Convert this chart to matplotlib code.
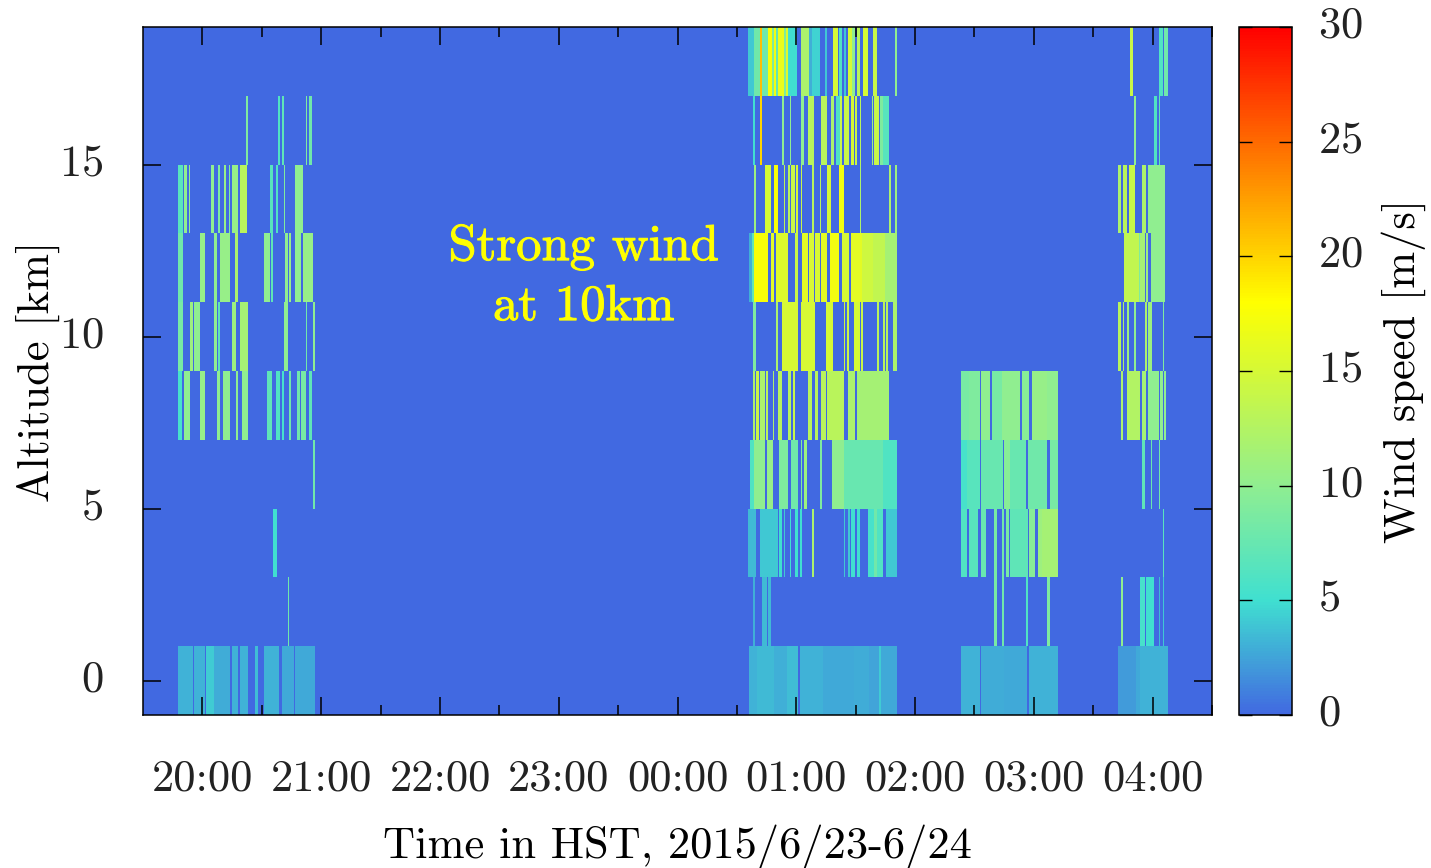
import matplotlib
matplotlib.use("Agg")
import matplotlib.pyplot as plt
import matplotlib.patheffects as pe
import matplotlib.transforms as mtrans
import numpy as np
from matplotlib.colors import LinearSegmentedColormap

plt.rcParams['font.family'] = ['cmr10', 'DejaVu Serif']
plt.rcParams['axes.formatter.use_mathtext'] = True
plt.rcParams['text.color'] = '#222222'
plt.rcParams['xtick.labelcolor'] = '#222222'
plt.rcParams['ytick.labelcolor'] = '#222222'

# altitude bins are 2 km wide, runs are (start, end, speed)
# start/end in minutes after 19:30, speed in m/s
altitudes = [0, 2, 4, 6, 8, 10, 12, 14, 16, 18]

runs_0 = [(17.7, 25.3, 3.1), (26, 31.3, 3.1), (32, 35.9, 4.2), (35.9, 44, 2.9), (44.8, 47.8, 3.1),
          (49.3, 53, 3.1), (56.7, 58.3, 3.6), (61.1, 68.7, 3.1), (70.2, 76.3, 2.8), (77, 86.7, 2.7),
          (305.9, 310, 3.1), (310, 318.5, 3.4), (318.5, 325.2, 3), (325.2, 330.7, 3.6),
          (332, 343.8, 3.1), (343.8, 359, 2.7), (359, 366.5, 2.9), (366.5, 371.9, 2.5),
          (371.9, 372.8, 4.2), (372.8, 380.8, 2.7),
          (413.2, 423, 3.1), (423.6, 434.7, 2.9), (434.7, 446.5, 2.7), (447.4, 462, 3.1),
          (492.5, 501.6, 2.2), (501.6, 503.8, 2.7), (503.8, 518.1, 3.1)]
runs_2 = [(73.3, 74.1, 8),
          (308.1, 309, 3), (312.6, 315, 3.5), (315.7, 317.2, 3.5),
          (429.7, 431.4, 8.5), (433.9, 435.1, 8), (446.2, 447, 6), (456.6, 458.2, 9),
          (494, 494.9, 10), (503.8, 506.1, 5.5), (506.8, 510.5, 5), (512.9, 513.7, 3.5), (515.1, 515.9, 4)]
runs_4 = [(65.8, 67.4, 5),
          (305.7, 309.6, 3.5), (311.8, 320.9, 4), (321.6, 323.1, 5), (323.8, 324.6, 4), (327, 327.6, 5),
          (329.2, 330.7, 5), (332, 333, 5), (338.1, 338.9, 12), (353.9, 354.7, 4), (356.1, 356.9, 4),
          (357.6, 359.8, 5), (360.6, 362.2, 5), (365.9, 369.6, 5.5), (369.6, 371.1, 8), (371.1, 374.1, 6),
          (375.6, 380.8, 4),
          (413.2, 416.2, 6), (416.9, 422.1, 6.5), (423.6, 425.8, 7.5), (429.7, 431.4, 8.5), (433.9, 435.1, 8),
          (435.8, 437.3, 8.5), (438.1, 446.9, 7), (447.7, 450.7, 9.5), (452.1, 454.1, 11), (454.1, 462, 11.5),
          (515.1, 515.9, 6.5)]
runs_6 = [(86, 86.9, 8),
          (306.8, 308.4, 6), (308.4, 314.2, 10), (315, 317.9, 10.5), (321.6, 326.1, 9), (327.6, 330.7, 8),
          (332.2, 333, 9), (333.7, 335.2, 11), (341.9, 342.8, 9), (348, 353.9, 10), (353.9, 374.1, 7.5),
          (374.1, 380.8, 6),
          (412.9, 416.2, 5.5), (416.2, 423, 6.5), (423.6, 434.4, 7.5), (435.1, 438.1, 9.5), (438.1, 446.2, 7.5),
          (447, 456.6, 8), (458.2, 462, 8.5),
          (504.6, 506.1, 7), (509, 509.8, 7.5), (512.9, 513.7, 8)]
runs_8 = [(17.7, 19.4, 5.5), (20.7, 23.7, 10), (29, 31.3, 10.5), (37.2, 38.9, 10), (40.3, 44.1, 10),
          (47, 48, 10), (50, 53, 10), (62.6, 65, 7), (67.2, 68.9, 6), (70.2, 71.2, 5.5), (73.9, 74.8, 8),
          (77.8, 79.3, 8), (80, 82.3, 8.5), (83.7, 85.4, 7),
          (308.1, 309, 12), (309.8, 311.1, 14), (311.8, 314.2, 12), (314.8, 315.7, 13), (317.9, 318.7, 12),
          (320.9, 323.1, 13), (326.1, 327.6, 13), (328.3, 329.2, 14), (335.9, 338.1, 13), (339.6, 341.1, 13),
          (342.6, 345, 13), (345.7, 353.9, 13), (356.1, 359.8, 12), (360.6, 377.1, 11.5),
          (412.9, 416.9, 8.5), (416.9, 423, 9), (423.6, 428, 10), (429, 433.9, 8.5), (433.9, 443.2, 10),
          (444, 447.5, 9.5), (449.2, 456.6, 10.5), (456.6, 462, 10),
          (494, 494.9, 12), (497, 503.8, 12.5), (504.6, 506.8, 11.5), (507.7, 513, 10), (513.7, 515.1, 10),
          (515.9, 516.7, 10)]
runs_10 = [(17.7, 20, 8.5), (23.7, 25.3, 11), (25.9, 29, 10), (35.7, 37.2, 10), (37.9, 38.9, 7), (44.8, 47, 11),
           (49.3, 53, 11.5), (70.9, 73.2, 10), (82.2, 83, 8), (86, 86.9, 10),
           (308.1, 309.6, 9), (320, 320.9, 12), (323.1, 330.7, 15), (332.2, 339.6, 15), (345, 348.5, 15),
           (353.9, 354.7, 14), (355.6, 356.8, 14), (359, 362.2, 15), (362.8, 363.5, 14), (371.1, 372, 13),
           (374.1, 375, 13), (375.6, 376.5, 13), (378.7, 380.8, 12),
           (492.5, 494, 13), (494.9, 495.6, 12), (497, 497.9, 11), (500.8, 501.6, 10), (506.1, 507, 12),
           (507.7, 509.8, 11), (515.1, 515.9, 9)]
runs_12 = [(17.7, 20, 8), (29, 31.3, 10.5), (35.7, 37.2, 10), (38.7, 44.1, 10.5), (46.3, 47.8, 12), (61.1, 64.2, 10),
           (64.8, 65.8, 7), (71.7, 73.2, 10), (73.9, 74.8, 10.5), (77, 80, 10), (80.7, 86, 10.5),
           (305.9, 307.6, 3), (307.6, 308.8, 7), (308.8, 315.5, 17.5), (317, 318.5, 16), (320, 326.1, 15.5),
           (329.2, 330.7, 14), (332.9, 335.9, 16), (336.6, 338.9, 15), (339.6, 342, 15), (342.6, 345.7, 16),
           (347.2, 351.7, 17), (353, 356.8, 15), (357.6, 363.2, 16), (363.2, 369, 14.5), (369, 375, 13.5),
           (375, 380.8, 11.5),
           (495.5, 503.1, 13.5), (503.1, 503.8, 9), (503.8, 506, 11.5), (506.8, 507.6, 11), (509, 516.6, 10)]
runs_14 = [(17.7, 20, 6.5), (20.7, 22.2, 10), (23, 23.7, 10), (34.2, 35.9, 10), (37.9, 38.9, 9), (40.9, 41.9, 10.5),
           (43.3, 44.1, 9), (44.8, 47.8, 10.5), (49.3, 52.4, 13), (64.2, 65.8, 6.5), (67.2, 68.2, 6),
           (70.9, 71.7, 9), (77, 80.7, 10),
           (308.8, 309.8, 11), (314.2, 317, 15), (318.5, 320.7, 17.5), (323.8, 324.6, 13), (326.1, 327, 13),
           (327.6, 329.2, 14), (329.8, 330.7, 15), (332.2, 333, 14), (338, 339.1, 13), (341.8, 342.6, 13),
           (345.7, 347.8, 15), (351.7, 353.9, 17), (362, 362.8, 12), (377.1, 378, 12), (380, 380.8, 11),
           (492.5, 494, 12), (494.9, 497, 13), (497.9, 500.9, 14), (504.6, 506.8, 12), (507.7, 516.6, 10)]
runs_16 = [(52, 53, 9), (67.9, 68.9, 6), (70.2, 71.2, 7), (82.2, 83, 9), (83.7, 85.4, 8),
           (308.1, 309.1, 5), (311.6, 312.6, 20), (323.1, 323.9, 10), (327, 327.6, 10), (332.2, 333.7, 10),
           (336, 339.1, 13), (342.6, 345.7, 13), (347.8, 348.9, 12), (350.2, 352.2, 6), (352.2, 353, 14),
           (353.9, 356.8, 14), (357.6, 358.9, 15), (359.8, 360.6, 14), (362, 362.8, 13), (368.2, 369, 11),
           (369.6, 372, 14), (372.6, 374.1, 9), (374.1, 377.1, 6.5),
           (500.8, 501.6, 10), (510.7, 512, 6), (512.9, 513.7, 7)]
runs_18 = [(305.7, 308.4, 4), (308.4, 311.5, 8), (311.6, 312.6, 21), (312.6, 315.5, 8), (315.5, 317.7, 17.5),
           (317.7, 318.5, 9), (318.5, 319.9, 17), (319.9, 320.7, 7), (320.7, 323.9, 16.5), (323.9, 324.9, 9),
           (324.9, 326.1, 15.5), (326.1, 330.3, 5), (332.5, 336.2, 12), (336.2, 337.9, 3), (337.9, 341.8, 4.5),
           (344.6, 345.8, 4), (348.5, 350.9, 15), (351.4, 353, 6), (353.9, 354.9, 4), (355.9, 358.1, 15),
           (358.1, 359.8, 10), (360.6, 362, 13), (363.7, 365.9, 15), (368.9, 371.1, 14), (380, 380.8, 10),
           (498.6, 500.1, 14), (512.9, 515.1, 6), (515.9, 518.1, 8)]

all_runs = [runs_0, runs_2, runs_4, runs_6, runs_8, runs_10, runs_12, runs_14, runs_16, runs_18]

hour_ticks = [20, 21, 22, 23, 24, 25, 26, 27, 28]
hour_labels = ['20:00', '21:00', '22:00', '23:00', '00:00', '01:00', '02:00', '03:00', '04:00']

# quarter-minute cells, wind speed 0 where there is no detection
cells_per_min = 4
speed = np.zeros((len(altitudes), 540 * cells_per_min))
for i, runs in enumerate(all_runs):
    for start, end, value in runs:
        speed[i, int(round(start * cells_per_min)):int(round(end * cells_per_min))] = value

time_edges = 19.5 + np.arange(speed.shape[1] + 1) / (60.0 * cells_per_min)
alt_edges = np.append(np.array(altitudes) - 1, altitudes[-1] + 1)

wind_cmap = LinearSegmentedColormap.from_list('wind', [(0, 'royalblue'), (5 / 30, 'turquoise'),
                                                       (10 / 30, 'lightgreen'), (18 / 30, 'yellow'), (1, 'red')])

W, H = 1431, 868
fig = plt.figure(figsize=(W / 100, H / 100), dpi=100)
ax = fig.add_axes([143 / W, 1 - 715 / H, (1212 - 143) / W, (715 - 27) / H])
cax = fig.add_axes([1239 / W, 1 - 715 / H, (1292 - 1239) / W, (715 - 27) / H])

im = ax.pcolormesh(time_edges, alt_edges, speed, cmap=wind_cmap, vmin=0, vmax=30, shading='flat')

ax.set_xticks(hour_ticks)
ax.set_xticklabels(hour_labels)
ax.set_xticks(np.array(hour_ticks) + 0.5, minor=True)
ax.set_xlim(19.5, 28.5)
ax.set_ylim(-1, 19)
ax.set_yticks([0, 5, 10, 15])
ax.tick_params(which='major', direction='in', top=True, right=True, length=13, width=1.1, labelsize=32)
ax.tick_params(which='minor', direction='in', top=True, length=7, width=1.1)
ax.tick_params(axis='x', which='major', pad=32)
ax.tick_params(axis='y', which='major', pad=28.5)
ax.set_xlabel('Time in HST, 2015/6/23-6/24', fontsize=32, labelpad=18)
ax.set_ylabel('Altitude [km]', fontsize=32)
ax.yaxis.set_label_coords(-0.078, 0.5)
note = ax.text(23.21, 11.73, 'Strong wind\nat 10km', color='yellow', fontsize=36.5, ha='center', va='center',
               linespacing=1.38)
note.set_path_effects([pe.withStroke(linewidth=0.7, foreground='yellow')])

cb = fig.colorbar(im, cax=cax)
cb.set_ticks([0, 5, 10, 15, 20, 25, 30])
cax.tick_params(direction='in', left=True, right=True, length=9.5, width=1, labelsize=32, pad=19)
cb.set_label('Wind speed [m/s]', fontsize=32)
cax.yaxis.set_label_coords(2.68, 0.5)

# number labels sit a little above their ticks
lift = mtrans.ScaledTranslation(0, 5 / 100, fig.dpi_scale_trans)
for label in ax.get_yticklabels() + cax.get_yticklabels():
    label.set_transform(label.get_transform() + lift)

for spine in list(ax.spines.values()) + list(cax.spines.values()):
    spine.set_linewidth(1.1)
cb.outline.set_linewidth(1.1)

fig.savefig("out.png", dpi=100)
